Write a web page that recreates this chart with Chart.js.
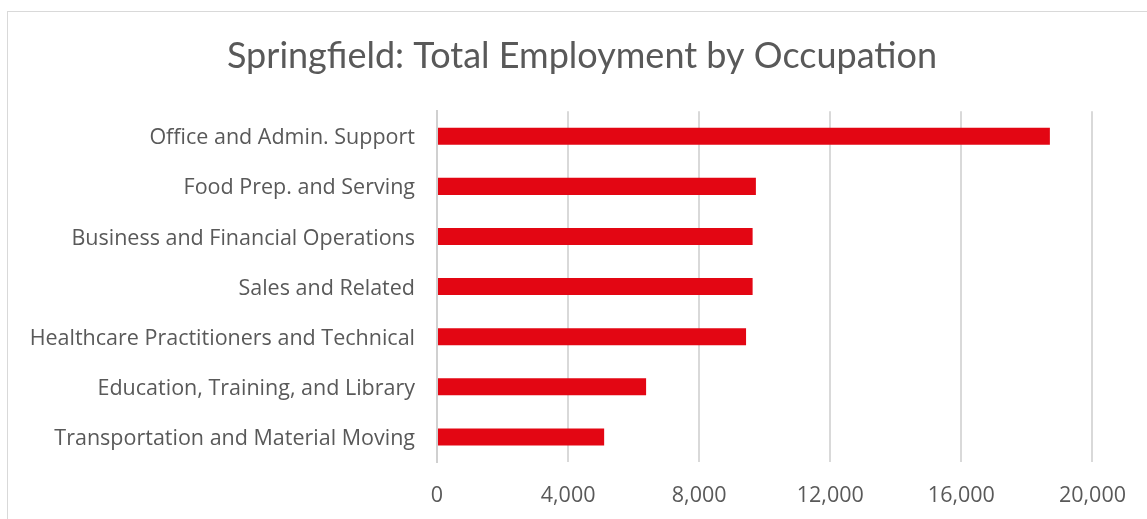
<!DOCTYPE html>
<html>
<head>
<meta charset="utf-8">
<title>Springfield: Total Employment by Occupation</title>
<script src="https://cdn.jsdelivr.net/npm/chart.js@4/dist/chart.umd.min.js"></script>
<style>
  html, body { margin: 0; padding: 0; background: #fff; overflow: hidden; }
  #frame {
    position: absolute; left: 7px; top: 11px;
    width: 1400px; height: 800px;
    border: 1px solid #d9d9d9;
  }
  #myChart { position: absolute; left: 0; top: 0; }
</style>
</head>
<body>
<div id="frame"></div>
<canvas id="myChart" width="1147" height="519"></canvas>
<script>
'use strict';
// occupations, top to bottom
let occupations = [
  'Office and Admin. Support',
  'Food Prep. and Serving',
  'Business and Financial Operations',
  'Sales and Related',
  'Healthcare Practitioners and Technical',
  'Education, Training, and Library',
  'Transportation and Material Moving'
];
let employment = [18700, 9730, 9630, 9630, 9430, 6380, 5100];

// axis range
let axisMin = 0;
let axisMax = 20000;
let axisStep = 4000;

let textColor = '#595959';
let titleFont = 'Lato, "Open Sans", sans-serif';
let labelFont = '"Open Sans", "Noto Sans", sans-serif';

// centre the title over the whole frame, not just the padded box
let frameTitle = {
  id: 'frameTitle',
  afterLayout(chart) {
    chart.titleBlock.left = 17;
    chart.titleBlock.right = chart.width;
  }
};

let ctx = document.getElementById('myChart').getContext('2d');
let myChart = new Chart(ctx, {
  type: 'bar',
  data: {
    labels: occupations,
    datasets: [{
      label: 'Total Employment',
      data: employment,
      backgroundColor: '#e30613',
      borderWidth: 0,
      barPercentage: 0.34,
      categoryPercentage: 1
    }]
  },
  options: {
    indexAxis: 'y',
    responsive: false,
    animation: false,
    layout: {
      padding: { left: 0, right: 53, top: 0, bottom: 0 }
    },
    plugins: {
      legend: { display: false },
      tooltip: { enabled: false },
      title: {
        display: true,
        text: 'Springfield: Total Employment by Occupation',
        color: textColor,
        font: { family: titleFont, size: 36, weight: 'normal' },
        padding: { top: 35, bottom: 33 }
      }
    },
    scales: {
      x: {
        min: axisMin,
        max: axisMax,
        ticks: {
          stepSize: axisStep,
          color: textColor,
          padding: 21,
          font: { family: labelFont, size: 21.5 },
          callback: (v) => v.toLocaleString('en-US')
        },
        grid: { color: '#d9d9d9', lineWidth: 2, drawTicks: false },
        border: { display: false },
        afterFit: (scale) => { scale.height = 57; }
      },
      y: {
        ticks: {
          color: textColor,
          padding: 22,
          labelOffset: 2,
          font: { family: labelFont, size: 21.5 }
        },
        grid: { display: false, drawTicks: false },
        border: { display: true, color: '#d0d0d0', width: 2 },
        afterFit: (scale) => { scale.width = 437; }
      }
    }
  },
  plugins: [frameTitle]
});
</script>
</body>
</html>
